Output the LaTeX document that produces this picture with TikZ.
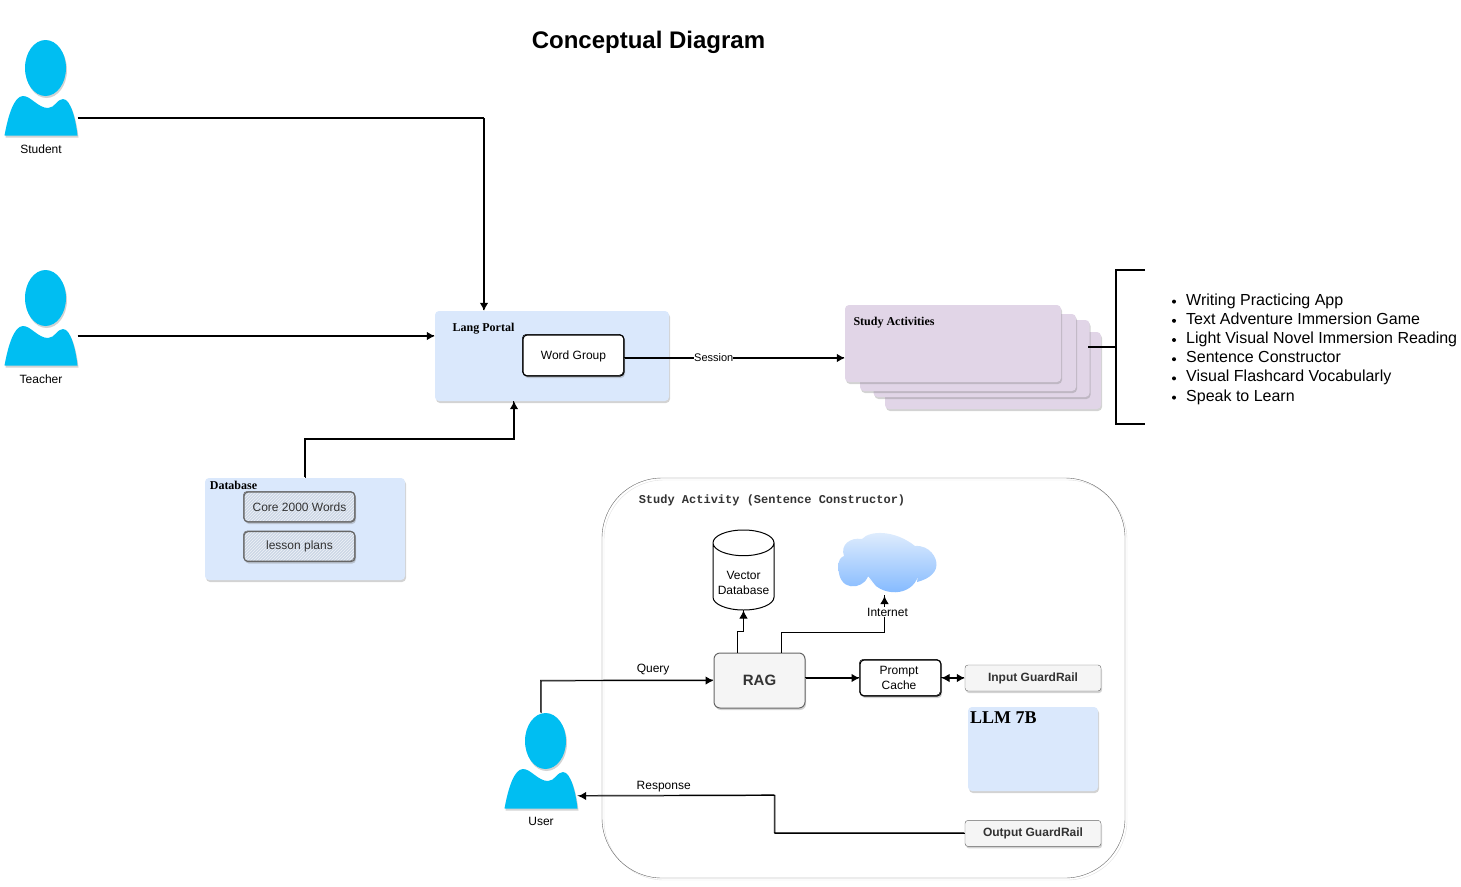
\documentclass[tikz,border=0pt]{standalone}
\usepackage{fontspec}
\setmainfont{Liberation Sans}
\newfontfamily\serifbold{Liberation Serif}[BoldFont={Liberation Serif Bold}]
\newfontfamily\monobold{Liberation Mono}
\usetikzlibrary{positioning, arrows.meta, shapes, shadows, patterns, calc}
\definecolor{cPortal}{HTML}{DAE8FC}
\definecolor{cStudy}{HTML}{E1D5E7}
\definecolor{cPerson}{HTML}{00BEF2}
\definecolor{cGrey}{HTML}{F5F5F5}
\definecolor{cLine}{HTML}{666666}
\definecolor{cText}{HTML}{333333}
\definecolor{cHatch}{HTML}{CDD7E6}
\definecolor{cCloudA}{HTML}{E2EEFD}
\definecolor{cCloudB}{HTML}{7DB6FF}

\begin{document}
\begin{tikzpicture}[x=1pt, y=-1pt,
txt/.style={inner sep=0pt, font=\fontsize{12}{14.4}\selectfont, align=center},
head/.style={inner sep=0pt, font=\serifbold\bfseries\fontsize{12}{14.4}\selectfont},
shad/.style={drop shadow={shadow xshift=1pt, shadow yshift=-2pt, opacity=.35}},
panel/.style={rectangle, inner sep=0pt, rounded corners=4pt, shad},
sketch/.style={postaction={draw, -, line width=.5pt, transform canvas={xshift=-.7pt, yshift=.7pt}}},
roughbox/.style={rectangle, draw, inner sep=0pt, line width=1.1pt, rounded corners=4pt, shad, sketch},
hatchbox/.style={roughbox, draw=cLine, minimum width=111pt, minimum height=30pt, text=cText, font=\fontsize{12}{14.4}\selectfont, preaction={fill=cHatch}, pattern=north east lines, pattern color=white!70!cHatch},
greybox/.style={rectangle, draw=cLine, fill=cGrey, inner sep=0pt, rounded corners=3pt, text=cText, shad},
guard/.style={greybox, minimum width=136pt, minimum height=26pt, font=\bfseries\fontsize{12}{14.4}\selectfont},
post/.style={->, draw, >={Latex[length=8pt, width=8.5pt]}, line width=1pt, sketch},
pics/person/.style={code={
	\fill[cPerson, shad] (4.5,-20) ellipse [x radius=20.5, y radius=28];
	\fill[cPerson, shad] (-36.5,47.5) .. controls (-33,28) and (-27,8) .. (-18,8) .. controls (-10,8) and (-3,20) .. (7,20) .. controls (14,20) and (16,11) .. (22,11) .. controls (30,11) and (35,33) .. (36.5,47.5) -- cycle;
}}]

\useasboundingbox (0,0) rectangle (1461,886);

\node[inner sep=0pt, font=\bfseries\fontsize{24}{28}\selectfont] (title) at (648.5,42) {Conceptual Diagram};

% lang portal
\node[panel, fill=cPortal, minimum width=234pt, minimum height=90pt] (portal) at (552,356) {};
\node[head] (portaltxt) at (483.5,329) {Lang Portal};
\node[roughbox, fill=white, minimum width=101pt, minimum height=41pt] (word) at (573.5,355.5) {};
\node[txt] (wordtxt) at (573.5,356) {Word Group};

% study activities, back to front
\foreach \n/\cx/\cy in {D/993/370.5, C/981.5/358.5, B/968/352.5, A/953/343.5} {
	\node[panel, fill=cStudy, minimum width=216pt, minimum height=77pt] (study\n) at (\cx,\cy) {};
}
\node[head] (studytxt) at (894,323) {Study Activities};

% bracket and its list
\coordinate (stub) at (1088,347);
\coordinate (mid) at (1116,347);
\coordinate (brtop) at (1145,270);
\coordinate (brbot) at (1145,424);
\draw[line width=2.2pt] (brtop) -- (1116,270) -- (1116,424) -- (brbot);
\draw[line width=2.2pt] (stub) -- (mid);
\foreach \i/\ty/\tx in {1/305.1/Writing Practicing App, 2/324.3/Text Adventure Immersion Game, 3/343.5/Light Visual Novel Immersion Reading, 4/362.7/Sentence Constructor, 5/381.9/Visual Flashcard Vocabularly, 6/401.1/Speak to Learn} {
	\node[inner sep=0pt, anchor=base west, font=\fontsize{16}{19.2}\selectfont] (item\i) at (1186,\ty) {\tx};
	\fill (1174,\ty-3.5) circle (2);
}

% database
\node[panel, fill=cPortal, minimum width=200pt, minimum height=102pt] (database) at (305,529) {};
\node[head] (databasetxt) at (233.5,485.5) {Database};
\node[hatchbox] (core) at (299.5,507) {Core 2000 Words};
\node[hatchbox, below=8.5pt of core] (lesson) {lesson plans};

% study activity frame
\node[rectangle, draw=cLine, inner sep=0pt, rounded corners=60pt, minimum width=523pt, minimum height=400pt, preaction={draw=black, opacity=.12, transform canvas={xshift=2pt, yshift=-2pt}}] (frame) at (863.5,678) {};
\node[inner sep=0pt, text=cText, font=\monobold\bfseries\fontsize{12}{14.4}\selectfont] (frametxt) at (772,500) {Study Activity (Sentence Constructor)};

\node[greybox, minimum width=91pt, minimum height=55pt, line width=1pt, rounded corners=6pt, font=\bfseries\fontsize{15}{18}\selectfont] (rag) at (759.5,680.5) {RAG};
\node[cylinder, shape border rotate=90, aspect=.5, draw, fill=white, inner sep=0pt, minimum width=61pt, minimum height=80pt, line width=1pt, txt, anchor=south] (vector) at (743.5,610.5) {\rule{0pt}{21pt}Vector\\Database};
\node[roughbox, fill=white, minimum width=81pt, minimum height=36pt, right=54pt of rag.east, yshift=2.5pt] (cache) {};
\node[txt] (cachetxt) at (899,678) {Prompt\\Cache};
\node[guard] (input) at (1033,678) {Input GuardRail};
\node[guard, below=129pt of input] (output) {Output GuardRail};
\node[panel, fill=cPortal, minimum width=130pt, minimum height=84pt] (llm) at (1033,749) {};
\node[inner sep=0pt, anchor=west, font=\serifbold\bfseries\fontsize{18}{21}\selectfont] (llmtxt) at (970,718) {LLM 7B};

% cloud
\shade[top color=cCloudA, bottom color=cCloudB] (868,577) .. controls (862,590) and (838,592) .. (838.5,567) .. controls (838,560) and (841,557) .. (844,556) .. controls (840,545) and (850,537) .. (862,539) .. controls (870,530) and (895,530) .. (915,546) .. controls (930,545) and (937,558) .. (936.5,565) .. controls (936,575) and (925,580) .. (917,582) -- (918,576) .. controls (912,597) and (880,598) .. (868,577) -- cycle;
\draw[white, line width=1pt] (868,577) -- (875,586);
\coordinate (cloud) at (884.5,596);

% people
\foreach \nm/\lab/\px/\py in {student/Student/41/88, teacher/Teacher/41/318, user/User/541/761} {
	\node[inner sep=0pt, minimum width=74pt, minimum height=96pt] (\nm) at (\px,\py) {};
	\pic at (\nm) {person};
	\node[txt, below=8pt of \nm] (\nm txt) {\lab};
}

% connectors
\draw[post] ([yshift=-30pt]student.east) -| ([xshift=-68pt]portal.north);
\draw[post] ([yshift=-18pt]teacher.east) -- ([yshift=20pt]portal.west);
\draw[post] (database.north) |- ([xshift=-38pt,yshift=-38pt]portal.south) -- ([xshift=-38pt]portal.south);
\draw[post] ([yshift=-2.5pt]word.east) -- (studyA.west |- 0,358) node[pos=.405, fill=white, inner sep=0pt, font=\fontsize{11}{13}\selectfont] (session) {Session};

\draw[post] (user.north) -- ++(0,-32) -- (rag.west) node[pos=.65, above=5pt, txt] (query) {Query};
\draw[post] (output.west) -- ++(-190,0) -- ++(0,-38) -- ([yshift=-35pt]user.east) node[pos=.565, above=3pt, txt] (response) {Response};
\draw[post] ([xshift=-22pt]rag.north) -- ++(0,-21) -| (vector.south);
\draw[post] ([xshift=22pt]rag.north) -- ++(0,-20) -| (cloud);
\node[txt, fill=white, inner sep=1pt] (internet) at (887.5,612) {Internet};
\draw[post] (rag.east |- cache.west) -- (cache.west);
\draw[post, <->] (cache.east) -- (input.west);
\end{tikzpicture}
\end{document}
